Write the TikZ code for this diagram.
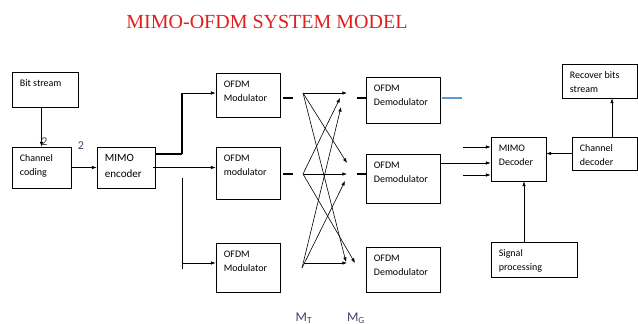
\documentclass[tikz,border=0pt]{standalone}
\usepackage{fontspec}
\setmainfont{Carlito}
\newfontfamily\titlefont{Liberation Serif}
\usetikzlibrary{arrows.meta}
\definecolor{titlered}{HTML}{E0201E}
\definecolor{linkblue}{HTML}{5B9BD5}
\definecolor{numgray}{HTML}{3A4660}

\begin{document}
\begin{tikzpicture}[x=0.75pt,y=-0.75pt]
  \tikzset{blk/.style = {draw, line width=0.6pt, inner sep=0pt}}
  \tikzset{wh/.style 2 args = {minimum width=#1*0.75pt, minimum height=#2*0.75pt}}
  \tikzset{txt/.style = {anchor=north west, align=left, inner sep=0pt, xshift=6pt, yshift=-5.8pt, font=\fontsize{7.5}{10.5}\selectfont}}
  \tikzset{arr/.style = {-{Latex[length=3.5pt,width=2.6pt]}, line width=0.45pt}}
  \tikzset{stub/.style = {line width=1.3pt}}

  \useasboundingbox (0,0) rectangle (638,324);

	\node[text=titlered, font=\titlefont\fontsize{15}{18}\selectfont] (title) at (267,22) {MIMO-OFDM SYSTEM MODEL};

	% transmitter side
	\node[blk, wh={66}{35}, label={[txt]north west:Bit stream}] (bit) at (45,89.5) {};
	\node[blk, wh={59}{41}, label={[txt]north west:Channel\\coding}] (chcod) at (41.5,167.5) {};
	\node[blk, wh={58}{41}, label={[txt, font=\fontsize{8.3}{11.5}\selectfont]north west:MIMO\\encoder}] (enc) at (126,167.5) {};

	\node[blk, wh={64}{44}, label={[txt]north west:OFDM\\Modulator}] (mod1) at (248,95) {};
	\node[blk, wh={64}{52}, label={[txt]north west:OFDM\\modulator}] (mod2) at (248,173) {};
	\node[blk, wh={64}{49}, label={[txt]north west:OFDM\\Modulator}] (mod3) at (248,267.5) {};

	% receiver side
	\node[blk, wh={74}{46}, label={[txt]north west:OFDM\\Demodulator}] (dem1) at (403,100) {};
	\node[blk, wh={74}{49}, label={[txt]north west:OFDM\\Demodulator}] (dem2) at (403,178.5) {};
	\node[blk, wh={74}{45}, label={[txt]north west:OFDM\\Demodulator}] (dem3) at (403,269.5) {};

	\node[blk, wh={55}{44}, label={[txt]north west:MIMO\\Decoder}] (dec) at (518.5,159) {};
	\node[blk, wh={65}{33}, label={[txt]north west:Channel\\decoder}] (cdec) at (604.5,153.5) {};
	\node[blk, wh={75}{34}, label={[txt]north west:Recover bits\\stream}] (rec) at (599.5,81) {};
	\node[blk, wh={86}{35}, label={[txt]north west:Signal\\processing}] (sig) at (534,259.5) {};

	\node[text=numgray, font=\fontsize{9}{9}\selectfont, inner sep=0pt] (numA) at (44.5,142) {2};
	\node[text=numgray, font=\fontsize{9}{9}\selectfont, inner sep=0pt] (numB) at (81,145.5) {2};
	\node[text=numgray, font=\fontsize{10}{10}\selectfont, inner sep=0pt] (mt) at (304,318) {M\textsubscript{T}};
	\node[text=numgray, font=\fontsize{10}{10}\selectfont, inner sep=0pt] (mg) at (356,318) {M\textsubscript{G}};

	\coordinate (splitA) at (182,154);
	\coordinate (splitTop) at (182,93);
	\coordinate (splitB) at (182,178);
	\coordinate (splitBot) at (182,269);
	\coordinate (tapBot) at (182,263);

	\draw[arr] (bit.south -| chcod.north) -- (chcod.north);
	\draw[arr] (chcod.east) -- (enc.west);

	\draw[line width=1.2pt] (enc.east |- splitA) -- (splitA);
	\draw[line width=0.8pt] (splitA) -- (splitTop);
	\draw[arr] (splitTop) -- (splitTop -| mod1.west);
	\draw[arr] ([xshift=-2pt]enc.east) -- (enc.east -| mod2.west);
	\draw[line width=0.6pt] (splitB) -- (splitBot);
	\draw[arr] (tapBot) -- (tapBot -| mod3.west);

	\draw[stub] ([shift={(3,3)}]mod1.east) -- ++(10,0);
	\draw[stub] ([shift={(3,1)}]mod2.east) -- ++(10,0);
	\draw[stub] ([shift={(-9,-2)}]dem1.west) -- ++(10,0);
	\draw[stub] ([shift={(-9,-4.5)}]dem2.west) -- ++(10,0);
	\draw[linkblue, line width=1pt] ([shift={(2,-2)}]dem1.east) -- ++(20,0);

	% channel paths
	\coordinate (tx1) at (303,93);
	\coordinate (tx2) at (303,174);
	\coordinate (tx3) at (302,268);
	\coordinate (tx3h) at (304,263);
	\coordinate (rx1a) at (347,93);
	\coordinate (rx1b) at (340,98);
	\coordinate (rx1c) at (341,107);
	\coordinate (rx2a) at (347,163);
	\coordinate (rx2b) at (347,174);
	\coordinate (rx2c) at (345,181);
	\coordinate (rx3a) at (346,262);
	\coordinate (rx3b) at (355,263);
	\coordinate (rx3c) at (347,263);

    \foreach \from/\to in {tx1/rx1a, tx1/rx2a, tx1/rx3a, tx2/rx1b, tx2/rx2b, tx2/rx3b, tx3/rx1c, tx3/rx2c, tx3h/rx3c}
    \draw[arr] (\from) -- (\to);

	\coordinate (inA) at (463,147);
	\coordinate (inB) at (463,163);
	\coordinate (inC) at (463,175);
	\coordinate (upR) at (612,0);
	\coordinate (upS) at (524,0);

    \foreach \from in {inA, inC}
    \draw[arr] (\from) -- (\from -| dec.west);
	\draw[arr] (dem2.east |- inB) -- (inB -| dec.west);
	\draw[arr] (cdec.west) -- (cdec.west -| dec.east);
	\draw[arr] (cdec.north -| upR) -- (rec.south -| upR);
	\draw[arr] (sig.north -| upS) -- (dec.south -| upS);

\end{tikzpicture}
\end{document}
